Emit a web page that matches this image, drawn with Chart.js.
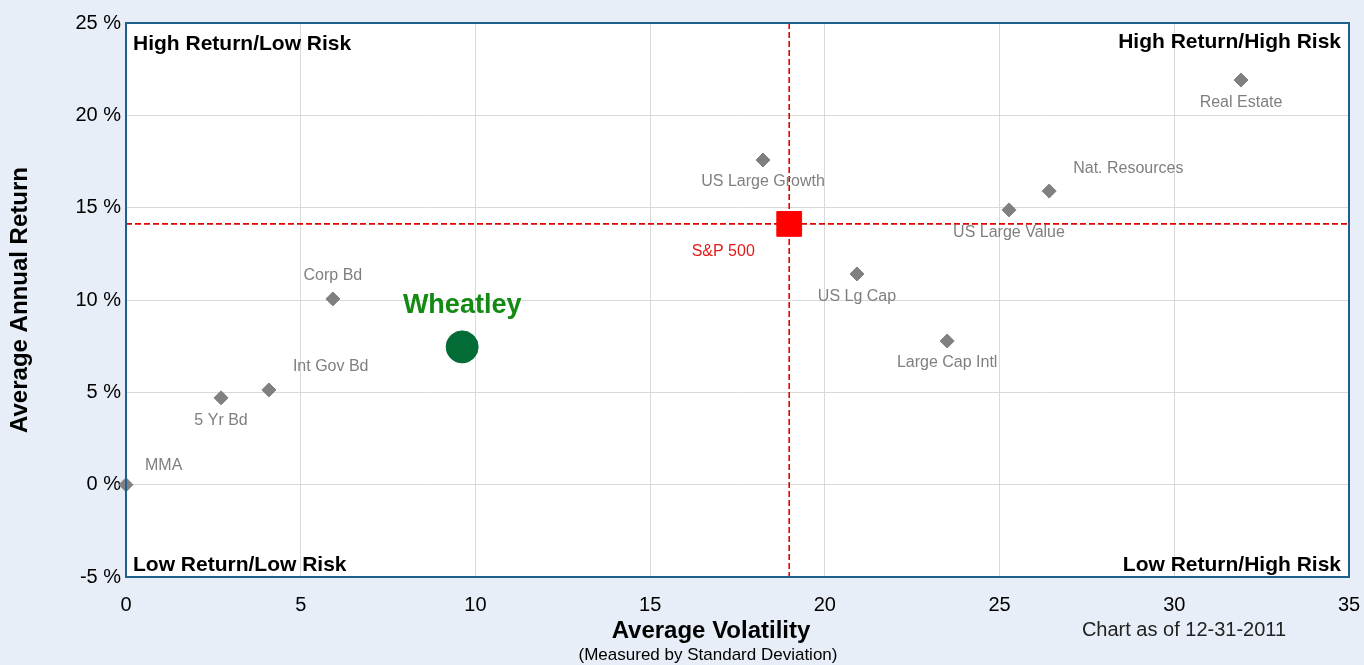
<!DOCTYPE html>
<html>
<head>
<meta charset="utf-8">
<script src="https://cdn.jsdelivr.net/npm/chart.js@4/dist/chart.umd.min.js"></script>
<style>
  html, body { margin: 0; padding: 0; background: #e8eef7; overflow: hidden; }
  #wrap { width: 1364px; height: 665px; position: relative; }
  canvas { display: block; }
</style>
</head>
<body>
<div id="wrap"><canvas id="canvas-1"></canvas></div>
<script>
// asset classes: volatility (std dev) vs average annual return (%)
var assetNames = ['MMA', '5 Yr Bd', 'Int Gov Bd', 'Corp Bd', 'US Large Growth', 'US Lg Cap', 'Large Cap Intl', 'US Large Value', 'Nat. Resources', 'Real Estate'];
var assetVolatility = [0, 2.72, 4.09, 5.92, 18.23, 20.92, 23.5, 25.27, 26.42, 31.91];
var assetReturn = [0, 4.7, 5.13, 10.06, 17.58, 11.41, 7.78, 14.88, 15.9, 21.91];

var wheatleyPoint = { name: 'Wheatley', x: 9.62, y: 7.46 };
var sp500Point = { name: 'S&P 500', x: 18.98, y: 14.12 };

var xTicks = [0, 5, 10, 15, 20, 25, 30, 35];
var yTicks = [-5, 0, 5, 10, 15, 20, 25];

var quadrantLabels = ['High Return/Low Risk', 'High Return/High Risk', 'Low Return/Low Risk', 'Low Return/High Risk'];

// label placement in px relative to each point [dx, dy, align]
var labelOffsets = [
  [19, -19, 'left'], [0, 23, 'center'], [24, -23, 'left'], [0, -23, 'center'],
  [0, 22, 'center'], [0, 23, 'center'], [0, 22, 'center'], [0, 23, 'center'],
  [24, -22, 'left'], [0, 23, 'center']
];

var assetData = assetNames.map(function (n, i) {
  return { x: assetVolatility[i], y: assetReturn[i] };
});

var FONT = '"Liberation Sans", Arial, sans-serif';
var RIGHT_GAP = 15;

var overlay = {
  id: 'overlay',
  afterLayout: function (chart) {
    // pin the plot's right edge, Chart.js keeps reserving room for the last tick label
    var a = chart.chartArea, xs = chart.scales.x;
    a.right = chart.width - RIGHT_GAP;
    a.width = a.right - a.left;
    xs.right = a.right;
    xs.width = a.right - xs.left;
    xs.configure();
    xs._labelItems = null;
    xs._gridLineItems = null;
  },
  beforeDraw: function (chart) {
    var ctx = chart.ctx, a = chart.chartArea;
    ctx.save();
    ctx.fillStyle = '#ffffff';
    ctx.fillRect(a.left, a.top, a.right - a.left, a.bottom - a.top);
    ctx.restore();
  },
  beforeDatasetsDraw: function (chart) {
    var ctx = chart.ctx, a = chart.chartArea;
    var xs = chart.scales.x, ys = chart.scales.y;
    var px = xs.getPixelForValue(sp500Point.x), py = ys.getPixelForValue(sp500Point.y);
    ctx.save();
    ctx.strokeStyle = '#e00000';
    ctx.lineWidth = 1.6;
    ctx.setLineDash([6, 3]);
    ctx.beginPath();
    ctx.moveTo(px, a.top); ctx.lineTo(px, a.bottom);
    ctx.moveTo(a.left, py); ctx.lineTo(a.right, py);
    ctx.stroke();
    ctx.restore();
  },
  afterDatasetsDraw: function (chart) {
    var ctx = chart.ctx, a = chart.chartArea;
    var xs = chart.scales.x, ys = chart.scales.y;
    ctx.save();
    // plot border
    ctx.strokeStyle = '#1f5f8b';
    ctx.lineWidth = 2;
    ctx.strokeRect(a.left, a.top, a.right - a.left, a.bottom - a.top);

    // point labels
    ctx.font = '16px ' + FONT;
    ctx.fillStyle = '#7f7f7f';
    ctx.textBaseline = 'middle';
    assetNames.forEach(function (n, i) {
      var o = labelOffsets[i];
      ctx.textAlign = o[2];
      ctx.fillText(n, xs.getPixelForValue(assetVolatility[i]) + o[0], ys.getPixelForValue(assetReturn[i]) + o[1]);
    });
    ctx.fillStyle = '#e31a1a';
    ctx.textAlign = 'center';
    ctx.fillText(sp500Point.name, xs.getPixelForValue(sp500Point.x) - 66, ys.getPixelForValue(sp500Point.y) + 28);
    ctx.fillStyle = '#138a13';
    ctx.font = 'bold 27px ' + FONT;
    ctx.fillText(wheatleyPoint.name, xs.getPixelForValue(wheatleyPoint.x), ys.getPixelForValue(wheatleyPoint.y) - 41);

    // quadrant labels
    ctx.fillStyle = '#000';
    ctx.font = 'bold 21px ' + FONT;
    ctx.textAlign = 'left';
    ctx.fillText(quadrantLabels[0], a.left + 7, a.top + 21);
    ctx.fillText(quadrantLabels[2], a.left + 7, a.bottom - 12);
    ctx.textAlign = 'right';
    ctx.fillText(quadrantLabels[1], a.right - 8, a.top + 19);
    ctx.fillText(quadrantLabels[3], a.right - 8, a.bottom - 12);

    // axis titles
    ctx.textAlign = 'center';
    ctx.font = 'bold 24px ' + FONT;
    ctx.fillText('Average Volatility', 711, 631);
    ctx.font = '17px ' + FONT;
    ctx.fillText('(Measured by Standard Deviation)', 708, 655);
    ctx.font = '20px ' + FONT;
    ctx.fillStyle = '#222';
    ctx.fillText('Chart as of 12-31-2011', 1184, 630);
    ctx.save();
    ctx.fillStyle = '#000';
    ctx.translate(20, 300);
    ctx.rotate(-Math.PI / 2);
    ctx.font = 'bold 24px ' + FONT;
    ctx.fillText('Average Annual Return', 0, 0);
    ctx.restore();
    ctx.restore();
  }
};

var scatterChart = new Chart(document.getElementById('canvas-1'), {
  type: 'scatter',
  data: {
    datasets: [{
      label: 'Wheatley',
      data: [{ x: wheatleyPoint.x, y: wheatleyPoint.y }],
      pointStyle: 'circle',
      pointRadius: 16,
      backgroundColor: '#036b36',
      borderColor: '#036b36',
      clip: false
    }, {
      label: 'S&P 500',
      data: [{ x: sp500Point.x, y: sp500Point.y }],
      pointStyle: 'rect',
      pointRadius: 17.5,
      backgroundColor: '#ff0000',
      borderColor: '#ff0000',
      clip: false
    }, {
      label: 'Asset classes',
      data: assetData,
      pointStyle: 'rectRot',
      pointRadius: 7,
      backgroundColor: '#808080',
      borderColor: '#808080',
      clip: false
    }]
  },
  options: {
    responsive: true,
    maintainAspectRatio: false,
    animation: false,
    layout: { padding: { top: 23, right: RIGHT_GAP, left: 0, bottom: 0 } },
    plugins: { legend: { display: false }, tooltip: { enabled: false } },
    scales: {
      x: {
        type: 'linear',
        min: xTicks[0],
        max: xTicks[xTicks.length - 1],
        afterFit: function (s) { s.height = 88; },
        afterBuildTicks: function (s) { s.ticks = xTicks.map(function (v) { return { value: v }; }); },
        grid: { color: '#d9d9d9', drawTicks: false },
        border: { display: false },
        ticks: { color: '#000', font: { family: FONT, size: 20 }, padding: 16 }
      },
      y: {
        type: 'linear',
        min: yTicks[0],
        max: yTicks[yTicks.length - 1],
        afterFit: function (s) { s.width = 126; },
        afterBuildTicks: function (s) { s.ticks = yTicks.map(function (v) { return { value: v }; }); },
        grid: { color: '#d9d9d9', drawTicks: false },
        border: { display: false },
        ticks: {
          color: '#000',
          font: { family: FONT, size: 20 },
          padding: 5,
          callback: function (v) { return v + ' %'; }
        }
      }
    }
  },
  plugins: [overlay]
});
</script>
</body>
</html>
